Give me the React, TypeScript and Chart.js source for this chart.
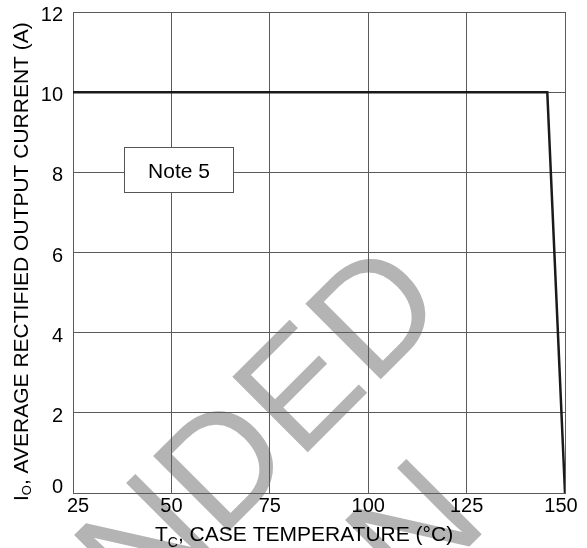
import React, { useEffect, useRef } from "react";
import { Chart, registerables } from "chart.js";

Chart.register(...registerables);

// ---- data ----
const caseTempC = [25, 145.5, 150];
const outputCurrentA = [10, 10, 0];
const xTickValues = [25, 50, 75, 100, 125, 150];
const yTickValues = [0, 2, 4, 6, 8, 10, 12];
const xTitleParts = ["T", "C", ", CASE TEMPERATURE (°C)"];
const yTitleParts = ["I", "O", ", AVERAGE RECTIFIED OUTPUT CURRENT (A)"];
const noteLabel = "Note 5";
const watermarkLines = ["NOT RECOMMENDED", "FOR NEW DESIGN"];

const FONT = '"Liberation Sans", Arial, Helvetica, sans-serif';

const decorPlugin = {
  id: "decor",
  beforeDraw(chart: any) {
    const ctx = chart.ctx as CanvasRenderingContext2D;
    ctx.save();
    ctx.translate(451, 309);
    ctx.rotate(-Math.PI / 4);
    ctx.font = `155px ${FONT}`;
    ctx.fillStyle = "rgb(180,180,180)";
    ctx.textBaseline = "alphabetic";
    ctx.textAlign = "right";
    ctx.fillText(watermarkLines[0], 0, 0);
    const w1 = ctx.measureText(watermarkLines[0]).width;
    ctx.textAlign = "center";
    ctx.fillText(watermarkLines[1], -w1 / 2, 181);
    ctx.restore();
  },
  afterDraw(chart: any) {
    const ctx = chart.ctx as CanvasRenderingContext2D;
    const x = chart.scales.x;
    const y = chart.scales.y;
    ctx.save();
    ctx.fillStyle = "#000";
    ctx.textBaseline = "alphabetic";

    // x tick labels
    ctx.font = `20px ${FONT}`;
    ctx.textAlign = "center";
    xTickValues.forEach((v, i) => {
      let px = x.getPixelForValue(v);
      if (i === 0) px += 5;
      if (i === xTickValues.length - 1) px -= 4;
      ctx.fillText(String(v), px, y.bottom + 19);
    });

    // y tick labels
    ctx.textAlign = "right";
    yTickValues.forEach((v, i) => {
      const py = y.getPixelForValue(v);
      const off = i === 0 ? 0 : 9;
      ctx.fillText(String(v), x.left - 10, py + off);
    });

    // x title
    ctx.textAlign = "left";
    let cx = 155;
    const base = 541;
    ctx.font = `21px ${FONT}`;
    ctx.fillText(xTitleParts[0], cx, base);
    cx += ctx.measureText(xTitleParts[0]).width;
    ctx.font = `14px ${FONT}`;
    ctx.fillText(xTitleParts[1], cx, base + 6);
    cx += ctx.measureText(xTitleParts[1]).width;
    ctx.font = `21px ${FONT}`;
    ctx.fillText(xTitleParts[2], cx, base);

    // y title
    ctx.save();
    ctx.translate(28, 501);
    ctx.rotate(-Math.PI / 2);
    let ty = 0;
    ctx.font = `21px ${FONT}`;
    ctx.fillText(yTitleParts[0], ty, 0);
    ty += ctx.measureText(yTitleParts[0]).width;
    ctx.font = `13px ${FONT}`;
    ctx.fillText(yTitleParts[1], ty, 3);
    ty += ctx.measureText(yTitleParts[1]).width;
    ctx.font = `21px ${FONT}`;
    ctx.fillText(yTitleParts[2], ty, 0);
    ctx.restore();

    // note box
    const bx0 = Math.round(x.getPixelForValue(38)) + 0.5;
    const bx1 = Math.round(x.getPixelForValue(65.6)) + 0.5;
    const by0 = Math.round(y.getPixelForValue(8.63)) + 0.5;
    const by1 = Math.round(y.getPixelForValue(7.51)) + 0.5;
    ctx.fillStyle = "#fff";
    ctx.fillRect(bx0, by0, bx1 - bx0, by1 - by0);
    ctx.strokeStyle = "#555";
    ctx.lineWidth = 1;
    ctx.strokeRect(bx0, by0, bx1 - bx0, by1 - by0);
    ctx.fillStyle = "#000";
    ctx.font = `21px ${FONT}`;
    ctx.textAlign = "center";
    ctx.fillText(noteLabel, (bx0 + bx1) / 2, (by0 + by1) / 2 + 7.5);

    ctx.restore();
  },
};

export default function App() {
  const ref = useRef<HTMLCanvasElement | null>(null);
  useEffect(() => {
    if (!ref.current) return;
    const chart = new Chart(ref.current, {
      type: "line",
      data: {
        datasets: [
          {
            data: caseTempC.map((t, i) => ({ x: t, y: outputCurrentA[i] })),
            borderColor: "#1a1a1a",
            borderWidth: 2.5,
            pointRadius: 0,
            tension: 0,
            fill: false,
          },
        ],
      },
      options: {
        animation: false,
        responsive: true,
        maintainAspectRatio: false,
        layout: { padding: { top: 12, right: 22, left: 0, bottom: 0 } },
        plugins: { legend: { display: false }, tooltip: { enabled: false } },
        scales: {
          x: {
            type: "linear",
            min: 25,
            max: 150,
            ticks: { stepSize: 25, display: false },
            grid: { color: "#5a5a5a", lineWidth: 1, drawTicks: false },
            border: { display: true, color: "#5a5a5a", width: 1 },
            afterFit: (s: any) => {
              s.height = 55;
            },
          },
          y: {
            min: 0,
            max: 12,
            ticks: { stepSize: 2, display: false },
            grid: { color: "#5a5a5a", lineWidth: 1, drawTicks: false },
            border: { display: true, color: "#5a5a5a", width: 1 },
            afterFit: (s: any) => {
              s.width = 73;
            },
          },
        },
      } as any,
      plugins: [decorPlugin as any],
    });
    return () => chart.destroy();
  }, []);
  return (
    <div style={{ position: "fixed", left: 0, top: 0, width: 587, height: 548, background: "#fff" }}>
      <canvas ref={ref} />
    </div>
  );
}
